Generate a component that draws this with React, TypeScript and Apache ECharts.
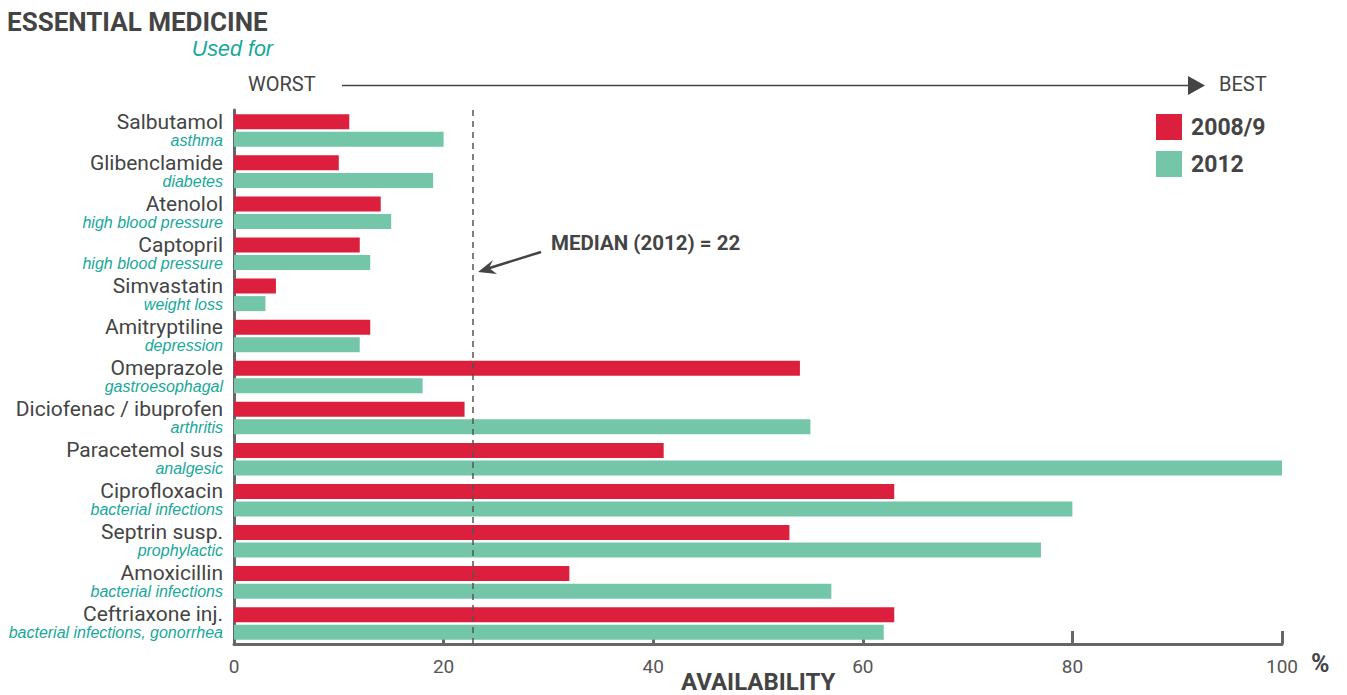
import React, { useEffect, useRef } from "react";
import * as echarts from "echarts";

const medicines = [
  "Salbutamol", "Glibenclamide", "Atenolol", "Captopril", "Simvastatin", "Amitryptiline",
  "Omeprazole", "Diciofenac / ibuprofen", "Paracetemol sus", "Ciprofloxacin", "Septrin susp.",
  "Amoxicillin", "Ceftriaxone inj.",
];
const usedFor = [
  "asthma", "diabetes", "high blood pressure", "high blood pressure", "weight loss", "depression",
  "gastroesophagal", "arthritis", "analgesic", "bacterial infections", "prophylactic",
  "bacterial infections", "bacterial infections, gonorrhea",
];
const values2008 = [11, 10, 14, 12, 4, 13, 54, 22, 41, 63, 53, 32, 63];
const values2012 = [20, 19, 15, 13, 3, 12, 18, 55, 100, 80, 77, 57, 62];
const seriesNames = ["2008/9", "2012"];
const medianLine = 22.8;
const medianLabel = "MEDIAN (2012) = 22";
const xAxisTitle = "AVAILABILITY";

const RED = "#dc1f3c";
const GREEN = "#74c6a8";
const TEAL = "#17a89a";
const DARK = "#444444";
const AXIS = "#666666";
const FONT = "Roboto, 'Noto Sans', sans-serif";
const ITALIC_FONT = "'Liberation Sans', Arial, sans-serif";

export default function App() {
  const ref = useRef<HTMLDivElement>(null);
  useEffect(() => {
    if (!ref.current) return;
    const chart = echarts.init(ref.current, undefined, { renderer: "svg" });
    const labels = medicines.map((m, i) => m + "||" + usedFor[i]);
    chart.setOption({
      animation: false,
      backgroundColor: "#ffffff",
      textStyle: { fontFamily: FONT },
      grid: { left: 234, right: 65, top: 110, bottom: 51, containLabel: false, outerBoundsMode: "none" },
      legend: {
        data: seriesNames,
        orient: "vertical",
        left: 1156,
        top: 114,
        padding: 0,
        itemGap: 11,
        itemWidth: 26,
        itemHeight: 26,
        icon: "rect",
        textStyle: { fontFamily: FONT, fontSize: 23, fontWeight: "bold", color: DARK, padding: [0, 0, 0, 4] },
      },
      xAxis: {
        type: "value",
        min: 0,
        max: 100,
        interval: 20,
        axisLine: { show: true, lineStyle: { color: AXIS, width: 3 } },
        axisTick: { show: true, inside: true, length: 13, lineStyle: { color: AXIS, width: 3 } },
        axisLabel: { color: "#555555", fontSize: 19, margin: 13, fontFamily: FONT },
        splitLine: { show: false },
      },
      yAxis: {
        type: "category",
        data: labels,
        inverse: true,
        axisLine: { show: true, lineStyle: { color: AXIS, width: 3 } },
        axisTick: { show: false },
        axisLabel: {
          margin: 11,
          align: "right",
          formatter: (v: string) => {
            const [n, s] = v.split("||");
            return `{n|${n}}\n{s|${s}}`;
          },
          rich: {
            n: { fontFamily: FONT, fontSize: 21, color: DARK, lineHeight: 19, align: "right" },
            s: { fontFamily: ITALIC_FONT, fontStyle: "italic", fontSize: 16, color: TEAL, lineHeight: 18, align: "right" },
          },
        },
      },
      series: [
        {
          name: seriesNames[0],
          type: "bar",
          data: values2008,
          barWidth: 15,
          barGap: "17%",
          itemStyle: { color: RED },
        },
        {
          name: seriesNames[1],
          type: "bar",
          data: values2012,
          barWidth: 15,
          barGap: "17%",
          itemStyle: { color: GREEN },
          markLine: {
            silent: true,
            symbol: ["none", "none"],
            label: { show: false },
            lineStyle: { color: "#555555", type: [6, 5], width: 1.5 },
            data: [{ xAxis: medianLine }],
          },
        },
      ],
      graphic: [
        { type: "text", left: 7, top: 9, style: { text: "ESSENTIAL MEDICINE", fontFamily: FONT, fontSize: 26, fontWeight: "bold", fill: DARK } },
        { type: "text", right: 1347 - 273, top: 38, style: { text: "Used for", fontFamily: ITALIC_FONT, fontStyle: "italic", fontSize: 21.5, fill: TEAL } },
        { type: "text", left: 248, top: 74, style: { text: "WORST", fontFamily: FONT, fontSize: 20, fill: DARK } },
        { type: "text", left: 1219, top: 74, style: { text: "BEST", fontFamily: FONT, fontSize: 20, fill: DARK } },
        { type: "line", shape: { x1: 342, y1: 85.5, x2: 1192, y2: 85.5 }, style: { stroke: DARK, lineWidth: 1.5 } },
        { type: "polygon", shape: { points: [[1188, 76], [1205, 85.5], [1188, 95]] }, style: { fill: DARK } },
        { type: "text", left: 551, top: 232, style: { text: medianLabel, fontFamily: FONT, fontSize: 20.5, fontWeight: "bold", fill: DARK } },
        { type: "line", shape: { x1: 541, y1: 252, x2: 488, y2: 268.5 }, style: { stroke: DARK, lineWidth: 2.5 } },
        { type: "polygon", shape: { points: [[478, 272], [493, 260], [489, 268], [497, 274]] }, style: { fill: DARK } },
        { type: "text", left: 1311, top: 651, style: { text: "%", fontFamily: FONT, fontSize: 25, fontWeight: "bold", fill: DARK } },
        { type: "text", left: 681, top: 670, style: { text: xAxisTitle, fontFamily: FONT, fontSize: 24, fontWeight: "bold", fill: DARK } },
      ],
    });
    return () => chart.dispose();
  }, []);
  return <div ref={ref} style={{ width: 1347, height: 695, position: "absolute", left: 0, top: 0 }} />;
}
